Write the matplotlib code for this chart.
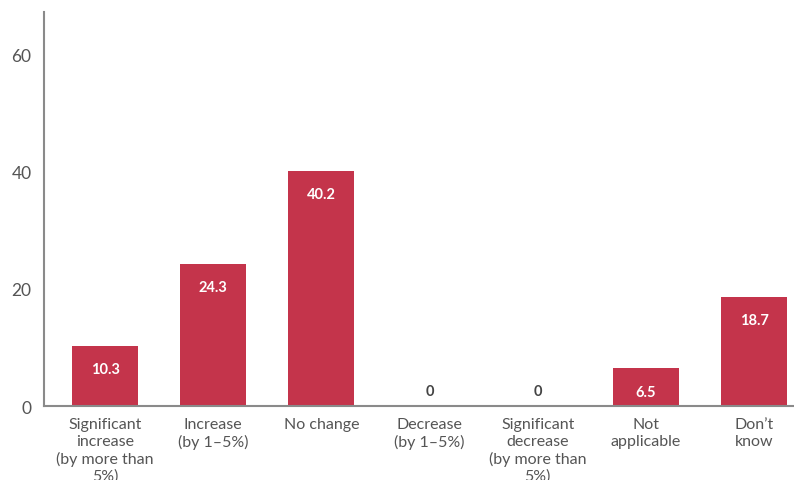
import matplotlib
matplotlib.use("Agg")
import matplotlib.pyplot as plt

categories = [
    "Significant\nincrease\n(by more than\n5%)",
    "Increase\n(by 1\u20135%)",
    "No change",
    "Decrease\n(by 1\u20135%)",
    "Significant\ndecrease\n(by more than\n5%)",
    "Not\napplicable",
    "Don\u2019t\nknow",
]
values = [10.3, 24.3, 40.2, 0, 0, 6.5, 18.7]
value_labels = ["10.3", "24.3", "40.2", "0", "0", "6.5", "18.7"]
y_ticks = [0, 20, 40, 60]

bar_color = "#C4344B"
axis_gray = "#8a8a8a"
text_gray = "#555555"

plt.rcParams["font.family"] = ["Lato", "DejaVu Sans"]

fig = plt.figure(figsize=(7.94, 4.81), dpi=100)
ax = fig.add_axes([0.0554, 0.1538, 0.9446, 0.8192])

x = list(range(len(categories)))
ax.bar(x, values, width=0.61, color=bar_color, zorder=2)

ax.set_xlim(-0.565, 6.37)
ax.set_ylim(0, 67.3)
ax.set_yticks(y_ticks)
ax.set_xticks(x)
ax.set_xticklabels(categories, fontsize=11.5, color=text_gray, linespacing=1.24)
ax.tick_params(axis="y", length=0, pad=9, labelsize=12.5, labelcolor=text_gray)
ax.tick_params(axis="x", length=0, pad=8)

for side in ("top", "right"):
    ax.spines[side].set_visible(False)
for side in ("left", "bottom"):
    ax.spines[side].set_color(axis_gray)
    ax.spines[side].set_linewidth(1.5)

for xi, v, lab in zip(x, values, value_labels):
    if v > 3:
        ax.annotate(lab, (xi, v), xytext=(0, -17), textcoords="offset points",
                    ha="center", va="center", color="white",
                    fontsize=10.5, fontweight="bold")
    else:
        ax.annotate(lab, (xi, v), xytext=(0, 11), textcoords="offset points",
                    ha="center", va="center", color="#444444",
                    fontsize=10.5, fontweight="bold")

fig.savefig("out.png", dpi=100)
